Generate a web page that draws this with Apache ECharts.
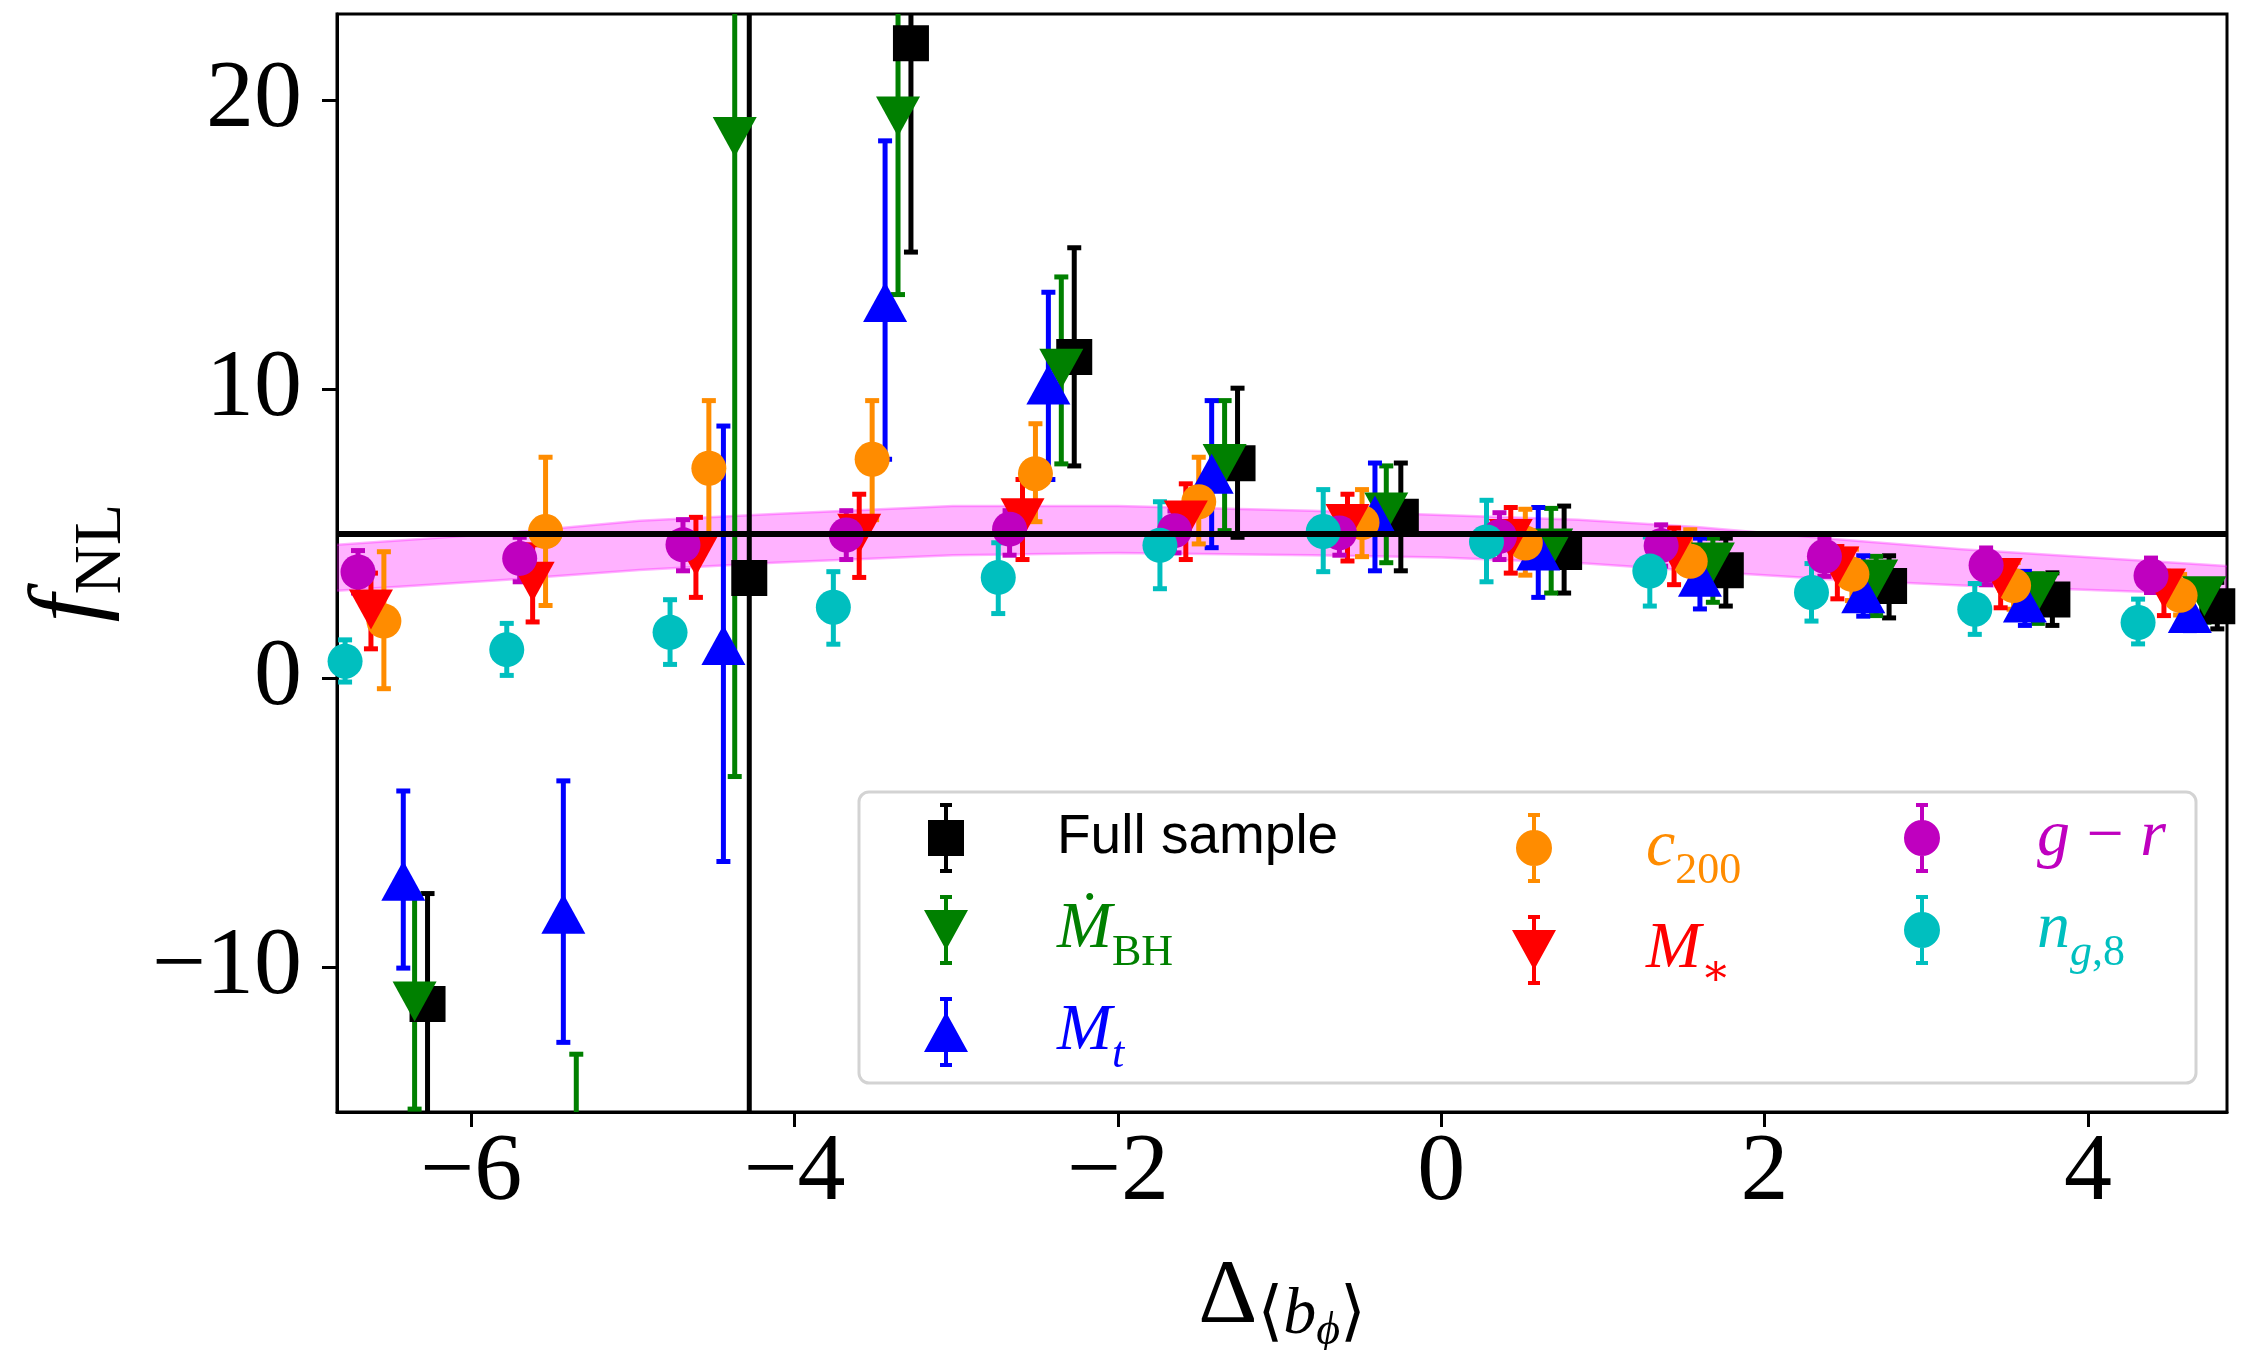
<!DOCTYPE html>
<html>
<head>
<meta charset="utf-8">
<script src="https://cdn.jsdelivr.net/npm/echarts@6/dist/echarts.min.js"></script>
<style>
  html, body { margin: 0; padding: 0; background: #fff; }
  #chart { width: 2250px; height: 1350px; }
</style>
</head>
<body>
<div id="chart"></div>
<script>
// axis ranges and ticks
let xMin = -6.83, xMax = 4.86;
let yMin = -15, yMax = 23;
let xTicks = [-6, -4, -2, 0, 2, 4];
let yTicks = [-10, 0, 10, 20];
let fnlTrue = 5;

// shaded band
let bandX  = [-6.83, -5.78, -4.96, -4.13, -3.02, -2.0, -0.8, 0.0, 0.85, 1.58, 2.45, 3.22, 4.86];
let bandLo = [3.04, 3.42, 3.76, 4.01, 4.27, 4.35, 4.27, 4.19, 4.0, 3.72, 3.42, 3.22, 2.9];
let bandHi = [4.63, 5.04, 5.46, 5.70, 5.97, 5.97, 5.81, 5.66, 5.5, 5.25, 4.82, 4.48, 3.9];

// Full sample
let fullX  = [-6.27, -4.28, -3.28, -2.27, -1.26, -0.25, 0.76, 1.76, 2.77, 3.78, 4.80];
let fullY  = [-11.26, 3.48, 21.99, 11.13, 7.45, 5.60, 4.38, 3.75, 3.20, 2.74, 2.50];
let fullLo = [-15.1, -25.0, 14.76, 7.36, 4.89, 3.73, 2.96, 2.51, 2.10, 1.84, 1.72];
let fullHi = [-7.44, 32.0, 29.2, 14.91, 10.05, 7.46, 5.97, 4.86, 4.25, 3.66, 3.33];

// Mdot_BH
let bhX  = [-6.35, -5.35, -4.37, -3.36, -2.35, -1.34, -0.34, 0.68, 1.68, 2.69, 3.69, 4.72];
let bhY  = [-11.18, -20.0, 18.74, 19.45, 10.72, 7.43, 5.75, 4.50, 4.02, 3.43, 3.00, 2.85];
let bhLo = [-14.9, -27.0, -3.39, 13.29, 7.43, 5.12, 4.01, 2.96, 2.64, 2.18, 1.91, 1.95];
let bhHi = [-7.48, -13.0, 40.9, 25.6, 13.90, 9.62, 7.36, 5.89, 4.86, 4.23, 3.63, 3.37];

// M_t
let mtX  = [-6.42, -5.43, -4.44, -3.44, -2.43, -1.42, -0.41, 0.60, 1.60, 2.61, 3.61, 4.63];
let mtY  = [-7.00, -8.14, 1.16, 13.03, 10.18, 7.09, 5.64, 4.43, 3.52, 2.95, 2.63, 2.27];
let mtLo = [-10.02, -12.59, -6.33, 7.59, 6.89, 4.53, 3.73, 2.81, 2.41, 2.16, 1.84, 1.66];
let mtHi = [-3.89, -3.54, 8.74, 18.61, 13.37, 9.62, 7.46, 5.92, 4.86, 4.25, 3.71, 3.33];

// c_200
let c200X  = [-6.54, -5.54, -4.53, -3.52, -2.51, -1.50, -0.49, 0.52, 1.54, 2.54, 3.54, 4.57];
let c200Y  = [1.99, 5.09, 7.28, 7.59, 7.09, 6.12, 5.40, 4.69, 4.06, 3.61, 3.22, 2.88];
let c200Lo = [-0.35, 2.53, 4.97, 5.50, 5.43, 4.66, 4.22, 3.58, 3.00, 2.70, 2.40, 2.20];
let c200Hi = [4.39, 7.66, 9.62, 9.62, 8.82, 7.66, 6.54, 5.86, 5.15, 4.48, 4.02, 3.60];

// M_*
let mstX  = [-6.62, -5.62, -4.61, -3.60, -2.59, -1.58, -0.58, 0.43, 1.44, 2.45, 3.46, 4.47];
let mstY  = [2.39, 3.35, 4.24, 5.01, 5.55, 5.47, 5.35, 4.83, 4.41, 3.88, 3.48, 3.12];
let mstLo = [1.03, 1.96, 2.81, 3.50, 4.12, 4.12, 4.07, 3.65, 3.25, 2.76, 2.45, 2.18];
let mstHi = [3.65, 4.63, 5.58, 6.38, 6.89, 6.74, 6.38, 5.92, 5.21, 4.57, 4.06, 3.71];

// g - r
let grX  = [-6.70, -5.70, -4.69, -3.68, -2.67, -1.65, -0.63, 0.36, 1.36, 2.37, 3.37, 4.39];
let grY  = [3.69, 4.16, 4.63, 4.97, 5.17, 5.12, 5.04, 4.92, 4.60, 4.23, 3.92, 3.56];
let grLo = [2.96, 3.35, 3.73, 4.12, 4.27, 4.35, 4.27, 4.12, 3.89, 3.54, 3.25, 2.98];
let grHi = [4.43, 4.89, 5.50, 5.81, 5.81, 5.80, 5.70, 5.74, 5.32, 4.86, 4.52, 4.17];

// n_g,8
let ngX  = [-6.78, -5.78, -4.77, -3.76, -2.74, -1.74, -0.73, 0.28, 1.29, 2.29, 3.30, 4.31];
let ngY  = [0.60, 1.00, 1.60, 2.47, 3.50, 4.61, 5.09, 4.73, 3.72, 2.98, 2.40, 1.94];
let ngLo = [-0.12, 0.11, 0.49, 1.19, 2.25, 3.11, 3.70, 3.35, 2.51, 1.99, 1.53, 1.20];
let ngHi = [1.34, 1.91, 2.73, 3.70, 4.70, 6.12, 6.54, 6.17, 4.90, 3.98, 3.29, 2.75];

let serif = "'Liberation Serif', 'DejaVu Serif', serif";

// legend icons (marker + error bar)
let barPath = 'M20 0 H24 V70 H20 Z M16 0 H28 V4 H16 Z M16 66 H28 V70 H16 Z ';
let icons = {
  square: 'path://' + barPath + 'M4 17 H40 V53 H4 Z',
  down: 'path://' + barPath + 'M0 15 H44 L22 55 Z',
  up: 'path://' + barPath + 'M22 15 L44 55 H0 Z',
  circle: 'path://' + barPath + 'M4 35 A18 18 0 1 1 40 35 A18 18 0 1 1 4 35 Z'
};

let groups = [
  { name: 'Full sample', x: fullX, y: fullY, lo: fullLo, hi: fullHi, color: '#000000', symbol: 'rect', size: 36, rot: 0, icon: 'square' },
  { name: 'Mdot_BH', x: bhX, y: bhY, lo: bhLo, hi: bhHi, color: '#008000', symbol: 'triangle', size: [44, 40], rot: 180, icon: 'down' },
  { name: 'M_t', x: mtX, y: mtY, lo: mtLo, hi: mtHi, color: '#0000ff', symbol: 'triangle', size: [44, 40], rot: 0, icon: 'up' },
  { name: 'c_200', x: c200X, y: c200Y, lo: c200Lo, hi: c200Hi, color: '#ff8c00', symbol: 'circle', size: 35, rot: 0, icon: 'circle' },
  { name: 'M_star', x: mstX, y: mstY, lo: mstLo, hi: mstHi, color: '#ff0000', symbol: 'triangle', size: [44, 40], rot: 180, icon: 'down' },
  { name: 'g-r', x: grX, y: grY, lo: grLo, hi: grHi, color: '#bf00bf', symbol: 'circle', size: 35, rot: 0, icon: 'circle' },
  { name: 'n_g8', x: ngX, y: ngY, lo: ngLo, hi: ngHi, color: '#00bfbf', symbol: 'circle', size: 35, rot: 0, icon: 'circle' }
];

function gridBox(params) {
  let cs = params.coordSys;
  return { x: cs.x, y: cs.y, width: cs.width, height: cs.height };
}

function errorBars(color) {
  return function (params, api) {
    let x = api.value(0);
    let top = api.coord([x, api.value(2)]);
    let bot = api.coord([x, api.value(1)]);
    let box = gridBox(params);
    let rects = [
      { x: top[0] - 2.5, y: top[1], width: 5, height: bot[1] - top[1] },
      { x: top[0] - 7, y: top[1] - 2.5, width: 14, height: 5 },
      { x: bot[0] - 7, y: bot[1] - 2.5, width: 14, height: 5 }
    ];
    let children = [];
    rects.forEach(function (r) {
      let c = echarts.graphic.clipRectByRect(r, box);
      if (c && c.width > 0 && c.height > 0) {
        children.push({ type: 'rect', shape: c, style: { fill: color } });
      }
    });
    return { type: 'group', children: children };
  };
}

function bandItem(params, api) {
  if (params.dataIndex !== 0) return null;
  let upper = bandX.map(function (x, i) { return api.coord([x, bandHi[i]]); });
  let lower = bandX.map(function (x, i) { return api.coord([x, bandLo[i]]); });
  let box = gridBox(params);
  return {
    type: 'group',
    clipPath: { type: 'rect', shape: box },
    children: [
      { type: 'polygon', shape: { points: upper.concat(lower.slice().reverse()) },
        style: { fill: 'rgba(255,0,255,0.3)' } },
      { type: 'polyline', shape: { points: upper },
        style: { stroke: 'rgba(255,0,255,0.3)', lineWidth: 2.5, fill: null } },
      { type: 'polyline', shape: { points: lower },
        style: { stroke: 'rgba(255,0,255,0.3)', lineWidth: 2.5, fill: null } }
    ]
  };
}

let series = [
  {
    type: 'custom', name: 'band', renderItem: bandItem, silent: true,
    data: bandX.map(function (x, i) { return [x, bandLo[i], bandHi[i]]; }),
    encode: { x: 0, y: [1, 2] }
  },
  {
    type: 'line', name: 'true', silent: true, symbol: 'none',
    data: [[xMin, fnlTrue], [xMax, fnlTrue]],
    lineStyle: { color: '#000', width: 6 }
  }
];

groups.forEach(function (g) {
  series.push({
    type: 'custom', name: g.name, renderItem: errorBars(g.color), silent: true,
    data: g.x.map(function (x, i) { return [x, g.lo[i], g.hi[i]]; }),
    encode: { x: 0, y: [1, 2] },
    itemStyle: { color: g.color }
  });
  series.push({
    type: 'scatter', name: g.name, symbol: g.symbol, symbolSize: g.size, symbolRotate: g.rot,
    data: g.x.map(function (x, i) { return [x, g.y[i]]; }),
    itemStyle: { color: g.color, opacity: 1 },
    clip: true, silent: true
  });
});

// legend rich text
let rich = {
  sp1: { width: 84 }, sp2: { width: 85 }, sp3: { width: 88 },
  fs: { fontFamily: "'Liberation Sans', Arial, sans-serif", fontSize: 55, color: '#000', lineHeight: 60 }
};
let keyColors = { g: '#008000', b: '#0000ff', o: '#ff8c00', r: '#ff0000', m: '#bf00bf', c: '#00bfbf' };
Object.keys(keyColors).forEach(function (k) {
  let col = keyColors[k];
  rich[k + 'i'] = { fontFamily: serif, fontStyle: 'italic', fontSize: 66, color: col, lineHeight: 66 };
  rich[k + 'n'] = { fontFamily: serif, fontSize: 66, color: col, lineHeight: 66 };
  rich[k + 's'] = { fontFamily: serif, fontSize: 44, color: col, lineHeight: 20, padding: [46, 0, 0, 0] };
  rich[k + 'si'] = { fontFamily: serif, fontStyle: 'italic', fontSize: 44, color: col, lineHeight: 20, padding: [46, 0, 0, 0] };
});

let labelText = {
  'Full sample': '{sp1| }{fs|Full sample}',
  'Mdot_BH': '{sp1| }{gi|Ṁ}{gs|BH}',
  'M_t': '{sp1| }{bi|M}{bsi|t}',
  'c_200': '{sp2| }{oi|c}{os|200}',
  'M_star': '{sp2| }{ri|M}{rs|∗}',
  'g-r': '{sp3| }{mi|g}{mn| − }{mi|r}',
  'n_g8': '{sp3| }{ci|n}{csi|g}{cs|,8}'
};

function legendCol(names, left) {
  return {
    orient: 'vertical', left: left, top: 803, padding: 0,
    itemWidth: 44, itemHeight: 70, itemGap: 12, z: 10,
    selectedMode: false,
    data: names.map(function (n) {
      let g = groups.filter(function (q) { return q.name === n; })[0];
      return { name: n, icon: icons[g.icon], itemStyle: { color: g.color } };
    }),
    formatter: function (n) { return labelText[n]; },
    textStyle: { rich: rich }
  };
}

let chart = echarts.init(document.getElementById('chart'));
chart.setOption({
  animation: false,
  backgroundColor: '#fff',
  grid: {
    left: 337, right: 23, top: 14, bottom: 238, outerBoundsMode: 'none', containLabel: false,
    show: true, borderColor: '#000', borderWidth: 3, backgroundColor: 'transparent'
  },
  xAxis: {
    type: 'value', min: xMin, max: xMax,
    axisLine: { onZero: false, lineStyle: { color: '#000', width: 3 } },
    axisTick: { customValues: xTicks, length: 15, lineStyle: { color: '#000', width: 3 } },
    axisLabel: {
      customValues: xTicks, fontFamily: serif, fontSize: 96, color: '#000', margin: 14,
      formatter: function (v) { return String(v).replace('-', '−'); }
    },
    splitLine: { show: false },
    name: '{d|Δ}{s|⟨}{si|b}{ss|ϕ}{s|⟩}', nameLocation: 'middle', nameGap: 140,
    nameTextStyle: {
      rich: {
        d: { fontFamily: serif, fontSize: 92, color: '#000', lineHeight: 92 },
        s: { fontFamily: serif, fontSize: 66, color: '#000', lineHeight: 40, padding: [36, 0, 0, 0] },
        si: { fontFamily: serif, fontStyle: 'italic', fontSize: 66, color: '#000', lineHeight: 40, padding: [36, 0, 0, 0] },
        ss: { fontFamily: serif, fontStyle: 'italic', fontSize: 46, color: '#000', lineHeight: 20, padding: [68, 0, 0, 0] }
      }
    }
  },
  yAxis: {
    type: 'value', min: yMin, max: yMax,
    axisLine: { onZero: false, lineStyle: { color: '#000', width: 3 } },
    axisTick: { customValues: yTicks, length: 15, lineStyle: { color: '#000', width: 3 } },
    axisLabel: {
      customValues: yTicks, fontFamily: serif, fontSize: 96, color: '#000', margin: 35,
      formatter: function (v) { return String(v).replace('-', '−'); }
    },
    splitLine: { show: false },
    name: '{f|f}{s|NL}', nameLocation: 'middle', nameRotate: 90, nameGap: 215,
    nameTextStyle: {
      rich: {
        f: { fontFamily: serif, fontStyle: 'italic', fontSize: 100, color: '#000', lineHeight: 100 },
        s: { fontFamily: serif, fontSize: 68, color: '#000', lineHeight: 40, padding: [60, 0, 0, 0] }
      }
    }
  },
  legend: [
    legendCol(['Full sample', 'Mdot_BH', 'M_t'], 924),
    legendCol(['c_200', 'M_star'], 1512),
    legendCol(['g-r', 'n_g8'], 1904)
  ],
  graphic: [{
    type: 'rect', z: 3,
    shape: { x: 859, y: 792, width: 1337, height: 291, r: 10 },
    style: { fill: 'rgba(255,255,255,0.8)', stroke: '#d3d3d3', lineWidth: 3 }
  }],
  series: series
});
</script>
</body>
</html>
